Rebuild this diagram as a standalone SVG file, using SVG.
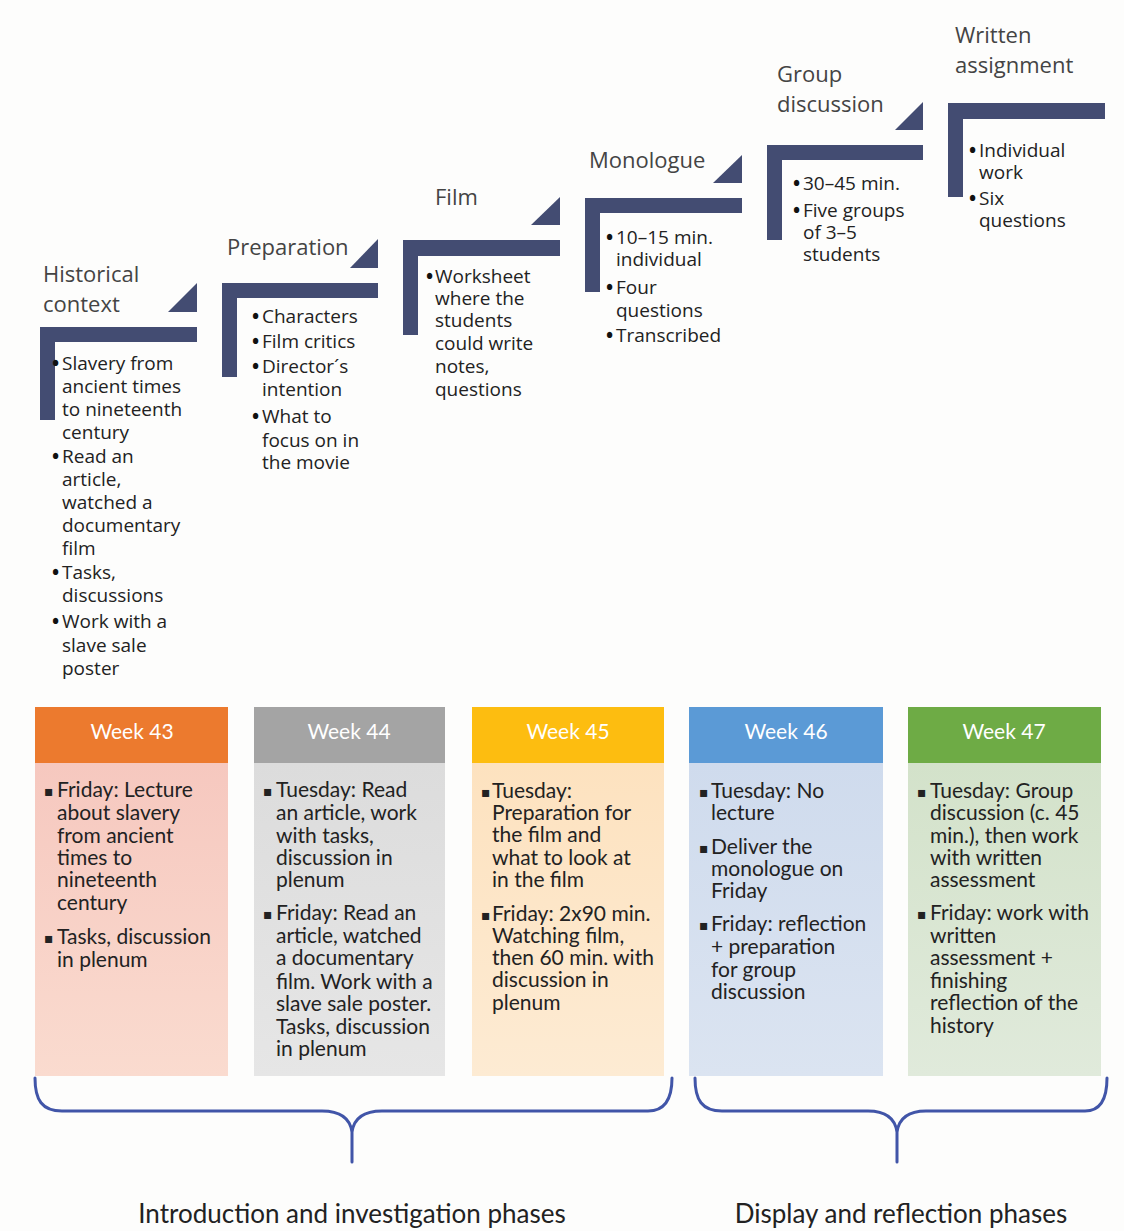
<svg xmlns="http://www.w3.org/2000/svg" width="1124" height="1231" viewBox="0 0 1124 1231">
<defs>
<style>
.title{font-family:"Open Sans","Lato",sans-serif;font-size:22px;fill:#444}
.st{font-family:"Open Sans","Lato",sans-serif;font-size:19px;fill:#222}
.b{font-weight:bold;fill:#111}
.bar{fill:#434c72}
.wk{font-family:"Lato","Liberation Sans",sans-serif;font-size:21px;fill:#ffffff;text-anchor:middle}
.bd{font-family:"Lato","Liberation Sans",sans-serif;font-size:21px;fill:#222}
.sq{font-family:"DejaVu Sans",sans-serif;font-size:14px;fill:#222}
.brace{fill:none;stroke:#4155a8;stroke-width:3;stroke-linecap:round}
.phase{font-family:"Lato","Open Sans",sans-serif;font-size:26px;fill:#222;text-anchor:middle}
</style>
<linearGradient id="g1" x1="0" y1="0" x2="0" y2="1"><stop offset="0" stop-color="#f6c8bf"/><stop offset="1" stop-color="#fadbcf"/></linearGradient>
<linearGradient id="g2" x1="0" y1="0" x2="0" y2="1"><stop offset="0" stop-color="#dcdcdc"/><stop offset="1" stop-color="#e6e6e6"/></linearGradient>
<linearGradient id="g3" x1="0" y1="0" x2="0" y2="1"><stop offset="0" stop-color="#fde2bf"/><stop offset="1" stop-color="#fdebd3"/></linearGradient>
<linearGradient id="g4" x1="0" y1="0" x2="0" y2="1"><stop offset="0" stop-color="#cfdbed"/><stop offset="1" stop-color="#dbe4f1"/></linearGradient>
<linearGradient id="g5" x1="0" y1="0" x2="0" y2="1"><stop offset="0" stop-color="#d3e2ca"/><stop offset="1" stop-color="#e0eadb"/></linearGradient>
</defs>
<rect width="1124" height="1231" fill="#fdfdfc"/>

<g id="step1">
<text class="title" x="43" y="282">Historical</text>
<text class="title" x="43" y="312">context</text>
<polygon class="bar" points="168,312 197,312 197,283"/>
<path class="bar" d="M40,327 H197 V342 H55 V420 H40 Z"/>
<text class="st"><tspan class="b" x="52" y="370">•</tspan><tspan x="62" y="370">Slavery from</tspan><tspan x="62" y="393">ancient times</tspan><tspan x="62" y="416">to nineteenth</tspan><tspan x="62" y="439">century</tspan><tspan class="b" x="52" y="463">•</tspan><tspan x="62" y="463">Read an</tspan><tspan x="62" y="486">article,</tspan><tspan x="62" y="509">watched a</tspan><tspan x="62" y="532">documentary</tspan><tspan x="62" y="555">film</tspan><tspan class="b" x="52" y="579">•</tspan><tspan x="62" y="579">Tasks,</tspan><tspan x="62" y="602">discussions</tspan><tspan class="b" x="52" y="628">•</tspan><tspan x="62" y="628">Work with a</tspan><tspan x="62" y="652">slave sale</tspan><tspan x="62" y="675">poster</tspan></text>
</g>

<g id="step2">
<text class="title" x="227" y="255">Preparation</text>
<polygon class="bar" points="350,268 378,268 378,239"/>
<path class="bar" d="M222,283 H378 V298 H237 V377 H222 Z"/>
<text class="st"><tspan class="b" x="252" y="323">•</tspan><tspan x="262" y="323">Characters</tspan><tspan class="b" x="252" y="348">•</tspan><tspan x="262" y="348">Film critics</tspan><tspan class="b" x="252" y="373">•</tspan><tspan x="262" y="373">Director´s</tspan><tspan x="262" y="396">intention</tspan><tspan class="b" x="252" y="423">•</tspan><tspan x="262" y="423">What to</tspan><tspan x="262" y="447">focus on in</tspan><tspan x="262" y="469">the movie</tspan></text>
</g>

<g id="step3">
<text class="title" x="435" y="205">Film</text>
<polygon class="bar" points="531,225 560,225 560,197"/>
<path class="bar" d="M403,240 H560 V256 H418 V335 H403 Z"/>
<text class="st"><tspan class="b" x="426" y="283">•</tspan><tspan x="435" y="283">Worksheet</tspan><tspan x="435" y="305">where the</tspan><tspan x="435" y="327">students</tspan><tspan x="435" y="350">could write</tspan><tspan x="435" y="373">notes,</tspan><tspan x="435" y="396">questions</tspan></text>
</g>

<g id="step4">
<text class="title" x="589" y="168">Monologue</text>
<polygon class="bar" points="713,183 742,183 742,155"/>
<path class="bar" d="M585,198 H742 V213 H600 V292 H585 Z"/>
<text class="st"><tspan class="b" x="606" y="244">•</tspan><tspan x="616" y="244">10–15 min.</tspan><tspan x="616" y="266">individual</tspan><tspan class="b" x="606" y="294">•</tspan><tspan x="616" y="294">Four</tspan><tspan x="616" y="317">questions</tspan><tspan class="b" x="606" y="342">•</tspan><tspan x="616" y="342">Transcribed</tspan></text>
</g>

<g id="step5">
<text class="title" x="777" y="82">Group</text>
<text class="title" x="777" y="112">discussion</text>
<polygon class="bar" points="895,130 923,130 923,102"/>
<path class="bar" d="M767,145 H923 V160 H782 V240 H767 Z"/>
<text class="st"><tspan class="b" x="793" y="190">•</tspan><tspan x="803" y="190">30–45 min.</tspan><tspan class="b" x="793" y="217">•</tspan><tspan x="803" y="217">Five groups</tspan><tspan x="803" y="239">of 3–5</tspan><tspan x="803" y="261">students</tspan></text>
</g>

<g id="step6">
<text class="title" x="955" y="43">Written</text>
<text class="title" x="955" y="73">assignment</text>
<path class="bar" d="M948,103 H1105 V119 H963 V197 H948 Z"/>
<text class="st"><tspan class="b" x="969" y="157">•</tspan><tspan x="979" y="157">Individual</tspan><tspan x="979" y="179">work</tspan><tspan class="b" x="969" y="205">•</tspan><tspan x="979" y="205">Six</tspan><tspan x="979" y="227">questions</tspan></text>
</g>

<g id="week43">
<rect x="35" y="707" width="193" height="56" fill="#ec7a2e"/>
<rect x="35" y="763" width="193" height="313" fill="url(#g1)"/>
<text class="wk" x="132" y="739">Week 43</text>
<text class="sq"><tspan x="44" y="796">▪</tspan><tspan x="44" y="943">▪</tspan></text>
<text class="bd"><tspan x="57" y="797">Friday: Lecture</tspan><tspan x="57" y="820">about slavery</tspan><tspan x="57" y="843">from ancient</tspan><tspan x="57" y="865">times to</tspan><tspan x="57" y="887">nineteenth</tspan><tspan x="57" y="910">century</tspan><tspan x="57" y="944">Tasks, discussion</tspan><tspan x="57" y="967">in plenum</tspan></text>
</g>

<g id="week44">
<rect x="254" y="707" width="191" height="56" fill="#a4a4a4"/>
<rect x="254" y="763" width="191" height="313" fill="url(#g2)"/>
<text class="wk" x="349" y="739">Week 44</text>
<text class="sq"><tspan x="263" y="796">▪</tspan><tspan x="263" y="919">▪</tspan></text>
<text class="bd"><tspan x="276" y="797">Tuesday: Read</tspan><tspan x="276" y="820">an article, work</tspan><tspan x="276" y="843">with tasks,</tspan><tspan x="276" y="865">discussion in</tspan><tspan x="276" y="887">plenum</tspan><tspan x="276" y="920">Friday: Read an</tspan><tspan x="276" y="943">article, watched</tspan><tspan x="276" y="965">a documentary</tspan><tspan x="276" y="989">film. Work with a</tspan><tspan x="276" y="1011">slave sale poster.</tspan><tspan x="276" y="1034">Tasks, discussion</tspan><tspan x="276" y="1056">in plenum</tspan></text>
</g>

<g id="week45">
<rect x="472" y="707" width="192" height="56" fill="#fdbd10"/>
<rect x="472" y="763" width="192" height="313" fill="url(#g3)"/>
<text class="wk" x="568" y="739">Week 45</text>
<text class="sq"><tspan x="481" y="797">▪</tspan><tspan x="481" y="920">▪</tspan></text>
<text class="bd"><tspan x="492" y="798">Tuesday:</tspan><tspan x="492" y="820">Preparation for</tspan><tspan x="492" y="842">the film and</tspan><tspan x="492" y="865">what to look at</tspan><tspan x="492" y="887">in the film</tspan><tspan x="492" y="921">Friday: 2x90 min.</tspan><tspan x="492" y="943">Watching film,</tspan><tspan x="492" y="965">then 60 min. with</tspan><tspan x="492" y="987">discussion in</tspan><tspan x="492" y="1010">plenum</tspan></text>
</g>

<g id="week46">
<rect x="689" y="707" width="194" height="56" fill="#5b9ad6"/>
<rect x="689" y="763" width="194" height="313" fill="url(#g4)"/>
<text class="wk" x="786" y="739">Week 46</text>
<text class="sq"><tspan x="699" y="797">▪</tspan><tspan x="699" y="853">▪</tspan><tspan x="699" y="930">▪</tspan></text>
<text class="bd"><tspan x="711" y="798">Tuesday: No</tspan><tspan x="711" y="820">lecture</tspan><tspan x="711" y="854">Deliver the</tspan><tspan x="711" y="876">monologue on</tspan><tspan x="711" y="898">Friday</tspan><tspan x="711" y="931">Friday: reflection</tspan><tspan x="711" y="954">+ preparation</tspan><tspan x="711" y="977">for group</tspan><tspan x="711" y="999">discussion</tspan></text>
</g>

<g id="week47">
<rect x="908" y="707" width="193" height="56" fill="#6eab45"/>
<rect x="908" y="763" width="193" height="313" fill="url(#g5)"/>
<text class="wk" x="1004" y="739">Week 47</text>
<text class="sq"><tspan x="917" y="797">▪</tspan><tspan x="917" y="919">▪</tspan></text>
<text class="bd"><tspan x="930" y="798">Tuesday: Group</tspan><tspan x="930" y="820">discussion (c. 45</tspan><tspan x="930" y="843">min.), then work</tspan><tspan x="930" y="865">with written</tspan><tspan x="930" y="887">assessment</tspan><tspan x="930" y="920">Friday: work with</tspan><tspan x="930" y="943">written</tspan><tspan x="930" y="965">assessment +</tspan><tspan x="930" y="988">finishing</tspan><tspan x="930" y="1010">reflection of the</tspan><tspan x="930" y="1033">history</tspan></text>
</g>

<g id="connectors">
<path class="brace" d="M35,1078 C35,1100 42,1111 62,1111 L322,1111 C340,1111 350,1118 352,1132 C354,1118 364,1111 382,1111 L648,1111 C664,1111 672,1100 672,1078 M352,1132 L352,1162"/>
<path class="brace" d="M695,1078 C695,1100 702,1111 722,1111 L868,1111 C886,1111 895,1118 897,1132 C899,1118 909,1111 926,1111 L1085,1111 C1100,1111 1107,1100 1107,1078 M897,1132 L897,1162"/>
</g>

<g id="phase-labels">
<text class="phase" x="352" y="1223">Introduction and investigation phases</text>
<text class="phase" x="901" y="1223">Display and reflection phases</text>
</g>
</svg>
